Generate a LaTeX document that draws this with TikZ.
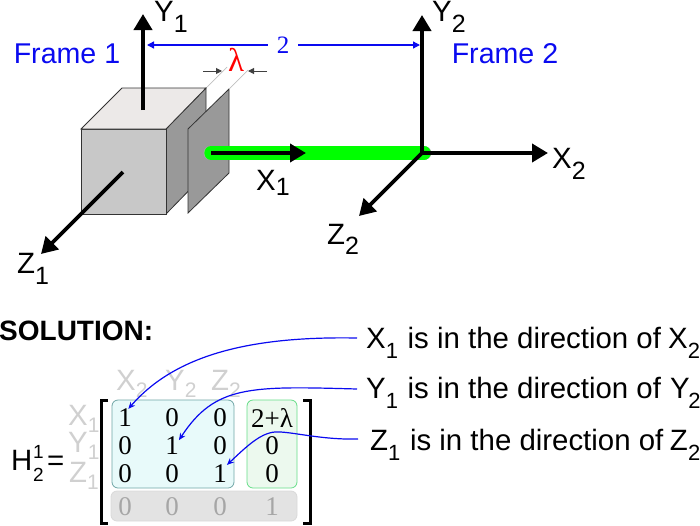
\documentclass[tikz,border=0pt]{standalone}
\usepackage{fontspec}
\setmainfont{Liberation Sans}
\newfontfamily\matfont{Liberation Serif}
\usetikzlibrary{arrows.meta}
\definecolor{framecolor}{RGB}{10,10,240}
\definecolor{greenbar}{RGB}{0,255,0}
\definecolor{headgray}{RGB}{208,208,208}
\newcommand{\labfont}{\fontsize{29.4}{29.4}\selectfont}
\newcommand{\subfont}{\fontsize{25}{25}\selectfont}
\newcommand{\axislab}[3][11pt]{#2\raisebox{-#1}{\subfont #3}}

\begin{document}
\begin{tikzpicture}[x=1pt,y=-1pt,>=Stealth,
  axis line/.style={line width=3.8pt,-{Triangle[length=16pt,width=18pt]}},
  blue line/.style={framecolor,line width=1.3pt,-{Triangle[length=7pt,width=7pt]}},
  dim line/.style={black!75,line width=1pt,-{Triangle[length=6pt,width=6pt]}},
  note line/.style={framecolor,line width=1.2pt,-{Stealth[length=7pt,width=6pt]}},
  axis label/.style={anchor=base west,inner sep=0pt,font=\labfont},
  note label/.style={axis label,font=\labfont\def\subfont{\fontsize{22}{22}\selectfont}},
  frame label/.style={inner sep=0pt,text=framecolor,font=\fontsize{28.6}{28.6}\selectfont},
  head label/.style={axis label,text=headgray,font=\labfont\def\subfont{\fontsize{21}{21}\selectfont}},
  cell/.style={inner sep=0pt,font=\matfont\fontsize{27}{27}\selectfont},
  gray cell/.style={cell,text=black!35},
  face/.style={draw=black!80,line width=0.8pt}]

    \useasboundingbox (0,0) rectangle (700,525);

    \fill[face,fill=black!40] (166,129) -- (206,88) -- (206,173) -- (166,214) -- cycle;
    \fill[face,fill={rgb,255:red,200;green,200;blue,200}] (81,129) rectangle (166,214);
    \fill[face,fill={rgb,255:red,236;green,233;blue,232}] (81,129) -- (122,88) -- (206,88) -- (166,129) -- cycle;
    \fill[face,fill=black!40] (188,129) -- (229,89) -- (229,173) -- (188,213) -- cycle;
    \draw[black!25,line width=0.7pt] (207,87) -- (227,67);
    \draw[black!25,line width=0.7pt] (229,89) -- (248,70);

    \coordinate (y1base) at (143,110);
    \coordinate (y1tip) at (143,14);
    \coordinate (z1base) at (123,172);
    \coordinate (z1tip) at (41,254);
    \coordinate (x1base) at (211,153);
    \coordinate (x1tip) at (306,153);
    \coordinate (origin2) at (422,153);
    \coordinate (y2tip) at (422,15);
    \coordinate (x2tip) at (548,153);
    \coordinate (z2tip) at (359,216);
    \coordinate (greenend) at (424,153);
    \coordinate (dist1) at (147,45);
    \coordinate (dist2) at (420,45);
    \coordinate (lamleft) at (203,71);
    \coordinate (lamlefttip) at (222,71);
    \coordinate (lamright) at (267,71);
    \coordinate (lamrighttip) at (248,71);

    \path (x1base) edge [draw=black!30,line width=0.6pt,double=greenbar,double distance=13.5pt,line cap=round] (greenend);
    \path (y1base) edge [axis line] (y1tip);
    \path (z1base) edge [axis line] (z1tip);
    \path (x1base) edge [axis line] (x1tip);
    \path (origin2) edge [axis line] (y2tip);
    \path (origin2) edge [axis line] (x2tip);
    \path (origin2) edge [axis line] (z2tip);

    \node[axis label] (y1lab) at (154,21.5) {\axislab[10.5pt]{Y}{1}};
    \node[axis label] (x1lab) at (256,190) {\axislab[5pt]{X}{1}};
    \node[axis label] (z1lab) at (17,273) {\axislab{Z}{1}};
    \node[axis label] (y2lab) at (432,21.5) {\axislab[10.5pt]{Y}{2}};
    \node[axis label] (x2lab) at (552,168) {\axislab{X}{2}};
    \node[axis label] (z2lab) at (327,244) {\axislab[10pt]{Z}{2}};

    \node[frame label] (frame1) at (67,54) {Frame 1};
    \node[frame label] (frame2) at (505,54) {Frame 2};
    \node[inner sep=0pt,minimum width=30pt,text=framecolor,font=\matfont\fontsize{25}{25}\selectfont] (dist) at (283,45) {2};
    \path (dist) edge [blue line] (dist1);
    \path (dist) edge [blue line] (dist2);
    \node[inner sep=0pt,text=red,font=\matfont\fontsize{33}{33}\selectfont] (lambda) at (236,60) {λ};
    \path (lamleft) edge [dim line] (lamlefttip);
    \path (lamright) edge [dim line] (lamrighttip);

    \node[anchor=base west,inner sep=0pt,font=\bfseries\fontsize{28}{28}\selectfont] (solution) at (-1,340) {SOLUTION:};

    \node[note label] (xnote) at (366,348) {\axislab[10pt]{X}{1}\kern1.5pt{} is in the direction of\kern-1pt{} \axislab[10pt]{X}{2}};
    \node[note label] (ynote) at (366,398) {\axislab[10pt]{Y}{1}\kern1.5pt{} is in the direction of\kern1pt{} \axislab[10pt]{Y\kern-1.5pt}{2}};
    \node[note label] (znote) at (370,450) {\axislab[10pt]{Z}{1}\kern1.5pt{} is in the direction of\kern-1.5pt{} \axislab[10pt]{Z}{2}};

    \draw[draw={rgb,255:red,111;green,165;blue,165},fill={rgb,255:red,232;green,250;blue,250},rounded corners=6pt,line width=0.8pt] (112,400) rectangle (234,488);
    \draw[draw={rgb,255:red,102;green,221;blue,136},fill={rgb,255:red,236;green,249;blue,238},rounded corners=6pt,line width=0.8pt] (247,400) rectangle (297,488);
    \draw[draw=black!15,fill=black!11,rounded corners=6pt,line width=0.8pt] (111,491) rectangle (297,521);
    \draw[line width=3pt] (108,400) -- (101.5,400) -- (101.5,523) -- (108,523);
    \draw[line width=3pt] (303,400) -- (310.5,400) -- (310.5,523) -- (303,523);

    \node[cell] (m11) at (125,418) {1};
    \node[cell] (m12) at (172,418) {0};
    \node[cell] (m13) at (220,418) {0};
    \node[cell] (m14) at (272,418) {2+λ};
    \node[cell] (m21) at (125,446) {0};
    \node[cell] (m22) at (172,446) {1};
    \node[cell] (m23) at (220,446) {0};
    \node[cell] (m24) at (272,446) {0};
    \node[cell] (m31) at (125,474) {0};
    \node[cell] (m32) at (172,474) {0};
    \node[cell] (m33) at (220,474) {1};
    \node[cell] (m34) at (272,474) {0};
    \node[gray cell] (m41) at (125,507) {0};
    \node[gray cell] (m42) at (172,507) {0};
    \node[gray cell] (m43) at (220,507) {0};
    \node[gray cell] (m44) at (272,507) {1};

    \node[head label] (colx) at (116,390) {\axislab[7pt]{X}{2}};
    \node[head label] (coly) at (165,390) {\axislab[7pt]{Y}{2}};
    \node[head label] (colz) at (211,390) {\axislab[7pt]{Z}{2}};
    \node[head label] (rowx) at (68,425) {\axislab[7pt]{X}{1}};
    \node[head label] (rowy) at (68,452) {\axislab[7pt]{Y}{1}};
    \node[head label] (rowz) at (69,482) {\axislab[7pt]{Z}{1}};

    \node[axis label] (hlab) at (11,470) {H};
    \node[anchor=base west,inner sep=0pt,font=\fontsize{19}{19}\selectfont] (hsup) at (33,458) {1};
    \node[anchor=base west,inner sep=0pt,font=\fontsize{19}{19}\selectfont] (hsub) at (33,481) {2};
    \node[axis label] (equal) at (47,470) {=};

    \draw[note line] ([xshift=-9pt,yshift=10pt]xnote.base west) .. controls (250,336) and (175,355) .. (m11.70);
    \draw[note line] ([xshift=-9pt,yshift=9pt]ynote.base west) .. controls (250,386) and (215,385) .. (m22.40);
    \draw[note line] ([xshift=-12pt,yshift=11pt]znote.base west) .. controls (320,440) and (290,431) .. (275,432) .. controls (260,433) and (245,448) .. (m33.north east);
\end{tikzpicture}
\end{document}
